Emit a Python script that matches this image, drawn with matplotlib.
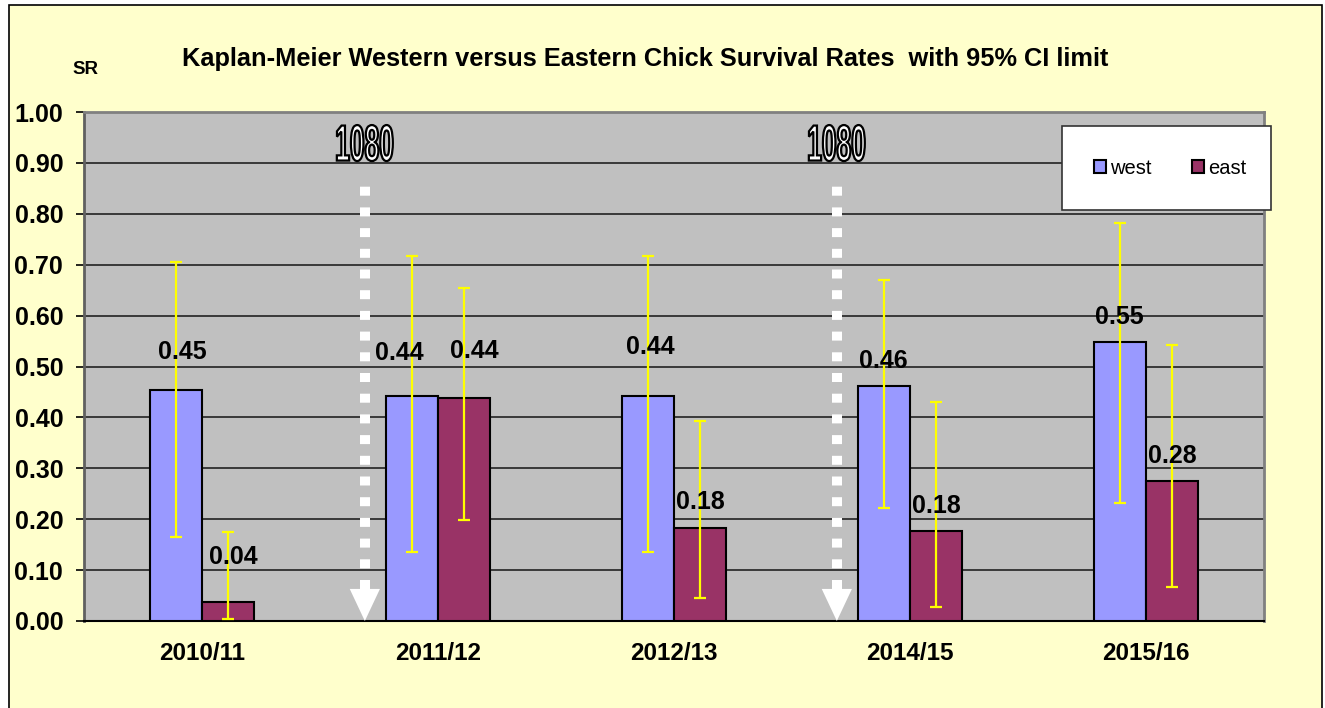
import matplotlib
matplotlib.use('Agg')
import matplotlib.pyplot as plt
import matplotlib.transforms as mtransforms
from matplotlib.patches import Rectangle, PathPatch, Polygon
from matplotlib.textpath import TextPath
from matplotlib.font_manager import FontProperties
import numpy as np

plt.rcParams['font.family'] = ['Liberation Sans', 'DejaVu Sans']

# data
seasons = ['2010/11', '2011/12', '2012/13', '2014/15', '2015/16']
west = [0.453, 0.443, 0.443, 0.461, 0.549]
east = [0.037, 0.438, 0.183, 0.176, 0.276]
west_lo = [0.165, 0.136, 0.136, 0.222, 0.232]
west_hi = [0.705, 0.718, 0.718, 0.669, 0.782]
east_lo = [0.004, 0.199, 0.045, 0.028, 0.067]
east_hi = [0.175, 0.655, 0.392, 0.431, 0.543]
# 1080 drops happened before these seasons
drop_seasons = ['2011/12', '2014/15']

# label nudges (pixels), some were moved by hand in the original
west_dx = [7, -12, 3, 0, 0]
west_dy = [38, 43, 49, 25, 25]
east_dx = [5, 10, 0, 0, 0]
east_dy = [45, 47, 26, 25, 25]

fig = plt.figure(figsize=(13.25, 7.08), dpi=100, facecolor='white')
# yellow chart area with black border
fig.patches.append(Rectangle((9/1325, -0.05), 1313/1325, 1.05 - 5/708,
                             transform=fig.transFigure, facecolor='#FFFFCC',
                             edgecolor='black', lw=1.2, zorder=-1))

ax = fig.add_axes([84/1325, 1 - 621/708, 1180/1325, 509/708])
ax.set_facecolor('#C0C0C0')

x = np.arange(len(seasons))
w = 0.222
wl = np.array(west) - np.array(west_lo)
wh = np.array(west_hi) - np.array(west)
el = np.array(east) - np.array(east_lo)
eh = np.array(east_hi) - np.array(east)

ax.bar(x - w/2, west, w, color='#9999FF', edgecolor='black', lw=1.5, zorder=3, label='west')
ax.bar(x + w/2, east, w, color='#993366', edgecolor='black', lw=1.5, zorder=3, label='east')
ax.errorbar(x - w/2, west, yerr=[wl, wh], fmt='none', ecolor='#FFFF00', elinewidth=1.6,
            capsize=4.5, capthick=1.6, zorder=4)
ax.errorbar(x + w/2, east, yerr=[el, eh], fmt='none', ecolor='#FFFF00', elinewidth=1.6,
            capsize=4.5, capthick=1.6, zorder=4)

for i in range(len(seasons)):
    ax.annotate('%.2f' % west[i], (x[i] - w/2, west[i]),
                xytext=(west_dx[i]*0.72, west_dy[i]*0.72),
                textcoords='offset points', ha='center', va='center',
                fontsize=18, fontweight='bold', zorder=5)
    ax.annotate('%.2f' % east[i], (x[i] + w/2, east[i]),
                xytext=(east_dx[i]*0.72, east_dy[i]*0.72),
                textcoords='offset points', ha='center', va='center',
                fontsize=18, fontweight='bold', zorder=5)

# dotted white arrows with "1080" markers
tp = TextPath((0, 0), '1080', size=1, prop=FontProperties(family='Liberation Sans', weight='bold'))
bb = tp.get_extents()
for s in drop_seasons:
    ax_x = seasons.index(s) - 0.31
    ax.plot([ax_x, ax_x], [0.062, 0.855], color='white', lw=7.2, dashes=(0.9, 1.17), zorder=3)
    ax.add_patch(Polygon([[ax_x - 0.064, 0.063], [ax_x + 0.064, 0.063], [ax_x, 0.0]],
                         closed=True, facecolor='white', edgecolor='none', zorder=3))
    tr = (mtransforms.Affine2D().translate(-bb.x0 - bb.width/2, -bb.y0 - bb.height/2)
          .scale(56/bb.width, 36/bb.height)
          + mtransforms.ScaledTranslation(ax_x, 0.939, ax.transData))
    ax.add_artist(PathPatch(tp, transform=tr, facecolor='white', edgecolor='black',
                            lw=1.6, zorder=6, clip_on=False))

ax.set_xlim(-0.5, len(seasons) - 0.5)
ax.set_ylim(0, 1)
ax.set_yticks(np.arange(0, 1.01, 0.1))
ax.set_yticklabels(['%.2f' % v for v in np.arange(0, 1.01, 0.1)], fontsize=18, fontweight='bold')
ax.set_xticks(x)
ax.set_xticklabels(seasons, fontsize=17.5, fontweight='bold')
ax.tick_params(axis='x', length=0, pad=15)
ax.tick_params(axis='y', length=6, width=1.2, pad=9, color='black')
ax.yaxis.grid(True, color='#222222', lw=1.2, zorder=1)
ax.set_axisbelow(True)
for side in ['top', 'right']:
    ax.spines[side].set_color('#808080')
    ax.spines[side].set_linewidth(2)
ax.spines['left'].set_color('#606060')
ax.spines['left'].set_linewidth(2)
ax.spines['bottom'].set_color('black')
ax.spines['bottom'].set_linewidth(1.5)

fig.text(645/1325, 1 - 59/708, 'Kaplan-Meier Western versus Eastern Chick Survival Rates  with 95% CI limit',
         ha='center', va='center', fontsize=18.3, fontweight='bold')
fig.text(85/1325, 1 - 70/708, 'SR', ha='center', va='center', fontsize=13.5, fontweight='bold')

# legend box
fig.patches.append(Rectangle((1062/1325, 1 - 210/708), 209/1325, 84/708,
                             transform=fig.transFigure, facecolor='white',
                             edgecolor='#333333', lw=1.2, zorder=5))
h, l = ax.get_legend_handles_labels()
leg = fig.legend(h, l, loc='center', bbox_to_anchor=(1170/1325, 1 - 168/708), ncol=2,
                 frameon=False, fontsize=14.5, handlelength=0.6, handleheight=0.6,
                 handletextpad=0.2, columnspacing=2.0)
leg.set_zorder(6)

fig.savefig('out.png', dpi=100, facecolor=fig.get_facecolor())
